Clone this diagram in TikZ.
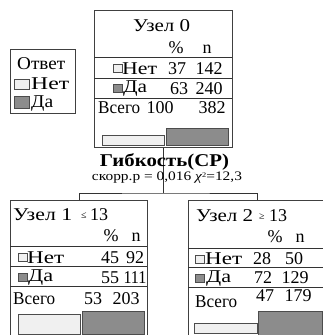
\documentclass[tikz,border=0pt]{standalone}
\usepackage{graphicx}
\usepackage{fontspec}
\setmainfont{Liberation Serif}
% set a word to a given width, keeping its height
\newcommand\fitw[2]{\resizebox{#1}{\height}{#2}}
\begin{document}
\begin{tikzpicture}[x=1pt,y=-1pt,
  frame/.style={draw=black!75,line width=0.9pt},
  rule/.style={draw=black!80,line width=0.9pt},
  lightfill/.style={draw=black!70,line width=0.8pt,fill=black!6},
  darkfill/.style={draw=black!70,line width=0.8pt,fill=black!45},
  txt/.style={inner sep=0pt,font=\fontsize{18}{18}\selectfont,anchor=base},
  ltxt/.style={txt,anchor=base west},
  lbl/.style={inner sep=0pt,anchor=base},
  le/.style={inner sep=0pt,font=\fontsize{10}{10}\selectfont,anchor=base west}
]
\useasboundingbox (0,0) rectangle (323,335);
\clip (0,0) rectangle (323,335);
\fill[white] (0,0) rectangle (323,335);

% ---- legend ----
\node[frame,minimum width=65pt,minimum height=64pt,inner sep=0pt,anchor=north west] (legend) at (10,49) {};
\node[ltxt] (legtitle) at (17,69) {\fitw{48pt}{Ответ}};
\draw[lightfill] (14,79) rectangle (29,89);
\node[ltxt] (legno) at (31,89) {\fitw{38pt}{Нет}};
\draw[darkfill] (14,96) rectangle (29,108);
\node[ltxt] (legyes) at (31,107) {\fitw{22pt}{Да}};

% ---- node 0 ----
\node[frame,minimum width=138pt,minimum height=137pt,inner sep=0pt,anchor=north west] (n0) at (94,10) {};
\node[ltxt] (n0head) at (133,31) {\fitw{57pt}{Узел 0}};
\node[txt] at (176,53) {\%};
\node[txt] at (207,53) {n};
\draw[rule] (94,57) -- (232,57);
\draw[lightfill,line width=0.6pt] (113,64) rectangle (122,72);
\node[ltxt] at (122,74) {\fitw{35pt}{Нет}};
\node[txt] at (177,74) {37};
\node[txt] at (209,74) {142};
\draw[rule] (94,78) -- (232,78);
\draw[darkfill,line width=0.6pt] (113,84) rectangle (122,92);
\node[ltxt] at (123,92) {\fitw{24pt}{Да}};
\node[txt] at (179,94) {63};
\node[txt] at (209,94) {240};
\draw[rule] (94,98) -- (232,98);
\node[ltxt] at (98,113) {\fitw{42pt}{Всего}};
\node[txt] at (160,113) {100};
\node[txt] at (212,113) {382};
\draw[lightfill] (102,135) rectangle (164,145);
\draw[darkfill] (166,128) rectangle (228,145);

% ---- split ----
\coordinate (hub) at (n0.south |- 0,193);
\draw[rule] (n0.south) -- (hub);

% ---- node 1 ----
\node[frame,minimum width=137pt,minimum height=140pt,inner sep=0pt,anchor=north west] (n1) at (10,200) {};
\node[ltxt] at (13,220) {\fitw{59pt}{Узел 1}};
\node[le] at (81,218) {≤};
\node[txt] at (99,220) {13};
\node[txt] at (111,241) {\%};
\node[txt] at (136,241) {n};
\draw[rule] (10,246) -- (147,246);
\draw[lightfill,line width=0.6pt] (18,253) rectangle (27,261);
\node[ltxt] at (27,263) {\fitw{37pt}{Нет}};
\node[txt] at (110,263) {45};
\node[txt] at (135,263) {92};
\draw[rule] (10,266) -- (147,266);
\draw[darkfill,line width=0.6pt] (18,273) rectangle (27,281);
\node[ltxt] at (28,281) {\fitw{25pt}{Да}};
\node[txt] at (110,283) {55};
\node[txt] at (135,283) {\fitw{23pt}{111}};
\draw[rule] (10,286) -- (147,286);
\node[ltxt] at (13,304) {\fitw{42pt}{Всего}};
\node[txt] at (93,304) {53};
\node[txt] at (126,304) {203};
\draw[lightfill] (18,314) rectangle (80,334);
\draw[darkfill] (82,311) rectangle (144,334);

% ---- node 2 ----
\node[frame,minimum width=138pt,minimum height=140pt,inner sep=0pt,anchor=north west] (n2) at (188,200) {};
\node[ltxt] at (196,221) {\fitw{57pt}{Узел 2}};
\node[le] at (259,219) {≥};
\node[txt] at (278,221) {13};
\node[txt] at (275,242) {\%};
\node[txt] at (300,242) {n};
\draw[rule] (188,248) -- (326,248);
\draw[lightfill,line width=0.6pt] (195,255) rectangle (204,263);
\node[ltxt] at (205,264) {\fitw{37pt}{Нет}};
\node[txt] at (262,264) {28};
\node[txt] at (294,264) {50};
\draw[rule] (188,267) -- (326,267);
\draw[darkfill,line width=0.6pt] (195,274) rectangle (204,282);
\node[ltxt] at (206,282) {\fitw{25pt}{Да}};
\node[txt] at (263,283) {72};
\node[txt] at (295,283) {129};
\draw[rule] (188,287) -- (326,287);
\node[ltxt] at (195,307) {\fitw{42pt}{Всего}};
\node[txt] at (265,301) {47};
\node[txt] at (298,301) {179};
\draw[lightfill] (194,323) rectangle (257,333);
\draw[darkfill] (258,311) rectangle (322,340);

% ---- connectors to child nodes ----
\draw[rule] (n1.north) |- (hub) -| (n2.north);

% ---- split label ----
\node[lbl,font=\fontsize{18}{18}\selectfont\bfseries] (split) at (164.5,166) {\fitw{129pt}{Гибкость(СР)}};
\node[lbl,font=\fontsize{13}{13}\selectfont] (stat) at (167,180) {\fitw{150pt}{скорр.р = 0,016 \textit{χ}\raisebox{0.5ex}{\fontsize{7}{7}\selectfont 2}=12,3}};
\end{tikzpicture}
\end{document}
